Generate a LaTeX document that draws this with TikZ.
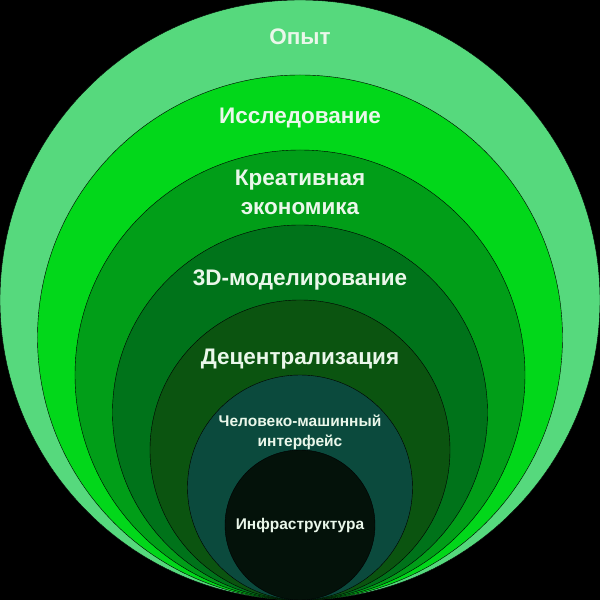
\documentclass[tikz,border=0pt]{standalone}
\usepackage{fontspec}
\setmainfont{Liberation Sans}
\usepackage{xcolor}

\definecolor{ringA}{HTML}{56D97D}
\definecolor{ringB}{HTML}{02D71A}
\definecolor{ringC}{HTML}{019E18}
\definecolor{ringD}{HTML}{00731A}
\definecolor{ringE}{HTML}{0B5410}
\definecolor{ringF}{HTML}{0B4A3D}
\definecolor{ringG}{HTML}{04120A}
\definecolor{labeltext}{HTML}{EAF7EA}

\tikzset{
  ring/.style={draw=black, line width=0.4pt, circle, inner sep=0pt},
  biglabel/.style={text=labeltext, align=center, font=\bfseries\fontsize{22.5}{29}\selectfont},
  smalllabel/.style={text=labeltext, align=center, font=\bfseries\fontsize{15.5}{20}\selectfont}
}

\begin{document}
\begin{tikzpicture}[x=1pt, y=1pt]
				\fill[black] (-300,0) rectangle (300,600);
				\useasboundingbox (-300,0) rectangle (300,600);
				\node[ring, fill=ringA, minimum size=600pt] (opyt)at(0, 300) {};
				\node[ring, fill=ringB, minimum size=525pt] (issl)at(0, 262.5) {};
				\node[ring, fill=ringC, minimum size=450pt] (kreativ)at(0, 225) {};
				\node[ring, fill=ringD, minimum size=375pt] (model)at(0, 187.5) {};
				\node[ring, fill=ringE, minimum size=300pt] (decentr)at(0, 150) {};
				\node[ring, fill=ringF, minimum size=225pt] (hmi)at(0, 112.5) {};
				\node[ring, fill=ringG, minimum size=150pt] (infra)at(0, 75) {};
				\node[biglabel] (Lopyt)at(0, 563) {Опыт};
				\node[biglabel] (Lissl)at(0, 482) {Исследование};
				\node[biglabel] (Lkreativ)at(0, 407.5) {Креативная\\экономика};
				\node[biglabel] (Lmodel)at(0, 320) {3D-моделирование};
				\node[biglabel] (Ldecentr)at(0, 241) {Децентрализация};
				\node[smalllabel] (Lhmi)at(0, 168) {Человеко-машинный\\интерфейс};
				\node[smalllabel] (Linfra)at(0, 75) {Инфраструктура};
			\end{tikzpicture}
\end{document}
